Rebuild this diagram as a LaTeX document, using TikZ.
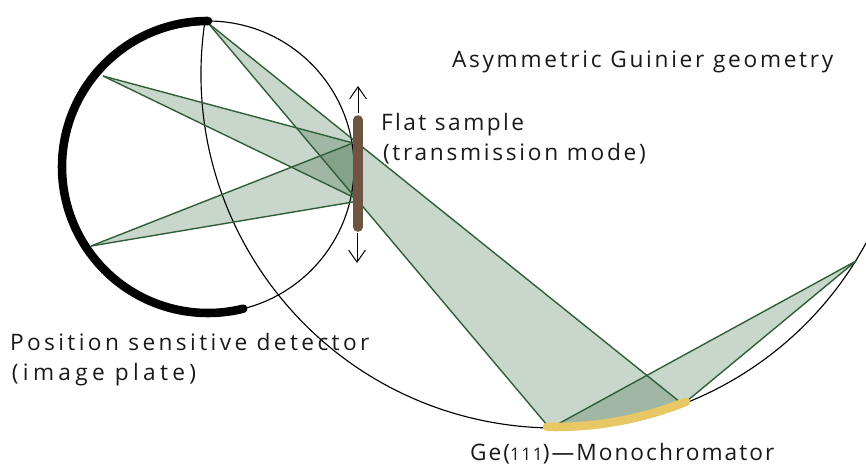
\documentclass[tikz,border=0pt]{standalone}
\usepackage{fontspec}
\setmainfont{Open Sans}
\usetikzlibrary{arrows.meta}
\definecolor{beam}{HTML}{2F6038}
\definecolor{beamline}{HTML}{2F5F38}
\definecolor{sampleb}{HTML}{6F5442}
\definecolor{crystal}{HTML}{E8C765}
\newcommand{\spaced}[1]{\addfontfeatures{LetterSpace=#1}}
\tikzset{
  beamfill/.style={fill=beam,fill opacity=.26,draw=none},
  beamedge/.style={draw=beamline,line width=1.05pt},
  thinline/.style={draw=black,line width=.85pt},
  label/.style={anchor=base west,inner sep=0pt,outer sep=0pt,font=\fontsize{17}{20}\selectfont,text=black!90},
  move/.style={draw=black,line width=.75pt,-{Straight Barb[length=9pt,width=12.5pt,line width=.75pt]}}
}
\begin{document}
\begin{tikzpicture}[x=.75pt,y=-.75pt]
\useasboundingbox (0,0) rectangle (866,467);
\clip (0,0) rectangle (866,467);
\coordinate (sc) at (208,167);
\coordinate (lc) at (555,74);
\coordinate (top) at (208,23);
\coordinate (sa) at (353,143);
\coordinate (sb) at (353,197);
\coordinate (sd) at (353,202);
\coordinate (s1) at (103,76);
\coordinate (s2) at (91,246);
\coordinate (m1) at (547,425);
\coordinate (m2) at (680,402);
\coordinate (m3) at (558,424);
\coordinate (m4) at (687,401);
\coordinate (f) at (856,261);
% fills
\fill[beamfill] (top) -- (m2) .. controls (640,418) and (590,425) .. (m1) -- cycle;
\fill[beamfill] (f) -- (m4) .. controls (645,418) and (600,424) .. (m3) -- cycle;
\fill[beamfill] (s1) -- (sa) -- (sb) -- cycle;
\fill[beamfill] (s2) -- (sa) -- (sd) -- cycle;
% circles
\draw[thinline] (sc) circle[radius=146];
\draw[thinline] (lc) ++(189.3:354) arc[start angle=189.3,end angle=28.5,radius=354];
% beam edges
\draw[beamedge] (top) -- (m2);
\draw[beamedge] (top) -- (m1);
\draw[beamedge] (f) -- (m3);
\draw[beamedge] (f) -- (m4);
\draw[beamedge] (s1) -- (sa);
\draw[beamedge] (s1) -- (sb);
\draw[beamedge] (s2) -- (sa);
\draw[beamedge] (s2) -- (sd);
% detector
\draw[line width=6.4pt,line cap=round,black] (sc) ++(-90:146) arc[start angle=-90,end angle=-284,radius=146];
% sample
\coordinate (st) at (358,120);
\coordinate (sl) at (358,227);
\draw[sampleb,line width=7.2pt,line cap=round] (st) -- (sl);
\coordinate (at) at (358,86);
\coordinate (ab) at (357,263);
\draw[move] (358,113) -- (at);
\draw[move] (357,233) -- (ab);
% crystal
\draw[crystal,line width=6.4pt,line cap=round] (lc) ++(91.3:353) arc[start angle=91.3,end angle=68.2,radius=353];
% labels
\node[label] (title) at (452,68) {\spaced{12}Asymmetric Guinier geometry};
\node[label] (flat) at (381,130) {\spaced{11}Flat sample};
\node[label] (mode) at (383,160) {\spaced{12}(transmission mode)};
\node[label] (psd) at (10,350) {\spaced{15}Position sensitive detector};
\node[label] (ip) at (12,380) {\spaced{19}(image plate)};
\node[label] (ge) at (470,460) {\spaced{9}Ge({\fontsize{13}{14}\selectfont 111})—Monochromator};
\end{tikzpicture}
\end{document}
